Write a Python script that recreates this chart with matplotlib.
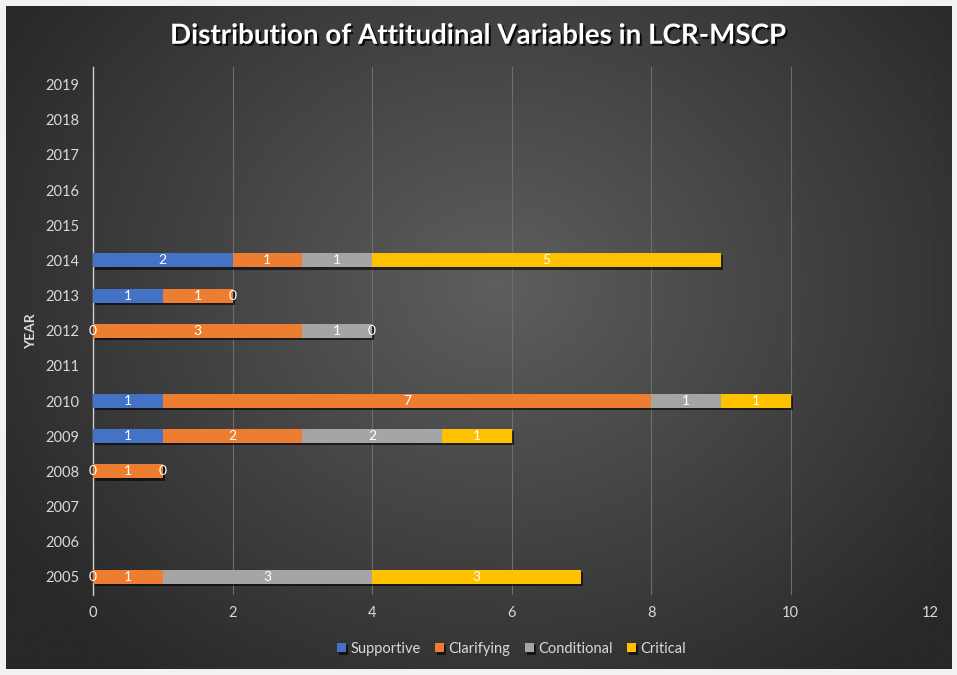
import numpy as np
import matplotlib
matplotlib.use("Agg")
import matplotlib.pyplot as plt
import matplotlib.patheffects as pe

plt.rcParams['font.family'] = ['Lato', 'DejaVu Sans']

years = [2005, 2006, 2007, 2008, 2009, 2010, 2011, 2012, 2013, 2014, 2015, 2016, 2017, 2018, 2019]
series_names = ["Supportive", "Clarifying", "Conditional", "Critical"]
nan = np.nan
supportive = [0, nan, nan, 0, 1, 1, nan, 0, 1, 2, nan, nan, nan, nan, nan]
clarifying = [1, nan, nan, 1, 2, 7, nan, 3, 1, 1, nan, nan, nan, nan, nan]
conditional = [3, nan, nan, 0, 2, 1, nan, 1, 0, 1, nan, nan, nan, nan, nan]
critical = [3, nan, nan, nan, 1, 1, nan, 0, nan, 5, nan, nan, nan, nan, nan]
colors = ["#4472C4", "#ED7D31", "#A5A5A5", "#FFC000"]
xticks = [0, 2, 4, 6, 8, 10, 12]

fig = plt.figure(figsize=(9.57, 6.75), dpi=100)
fig.patch.set_facecolor("#f2f2f2")

# background radial gradient
bg = fig.add_axes([0.006, 0.009, 0.988, 0.982])
bg.set_axis_off()
h, w = 400, 560
yy, xx = np.mgrid[0:h, 0:w]
cx, cy = w * 0.52, h * 0.42
r = np.sqrt(((xx - cx) / (w * 0.62)) ** 2 + ((yy - cy) / (h * 0.75)) ** 2)
r = np.clip(r, 0, 1)
c0 = np.array([0x5e, 0x5e, 0x5e]) / 255
c1 = np.array([0x28, 0x28, 0x28]) / 255
img = c0[None, None, :] * (1 - r[..., None]) + c1[None, None, :] * r[..., None]
bg.imshow(img, aspect='auto', extent=[0, 1, 0, 1], interpolation='bilinear')
bg.set_xlim(0, 1); bg.set_ylim(0, 1)

ax = fig.add_axes([0.0972, 0.1192, 0.8746, 0.7815])
ax.patch.set_alpha(0)
ypos = np.arange(len(years))
data = [supportive, clarifying, conditional, critical]
left = np.zeros(len(years))
shadow = [pe.SimplePatchShadow(offset=(1.5, -1.5), shadow_rgbFace='black', alpha=0.6), pe.Normal()]
for name, vals, col in zip(series_names, data, colors):
    v = np.array(vals, dtype=float)
    vv = np.nan_to_num(v)
    bars = ax.barh(ypos, vv, left=left, height=0.4, color=col, label=name, zorder=3)
    for b in bars:
        b.set_path_effects(shadow)
    for i, val in enumerate(v):
        if not np.isnan(val):
            ax.text(left[i] + vv[i] / 2, ypos[i], f"{int(val)}", ha='center', va='center',
                    color='white', fontsize=10, zorder=5)
    left = left + vv

ax.set_xlim(0, 12)
ax.set_ylim(-0.5, len(years) - 0.5)
ax.set_xticks(xticks)
ax.set_yticks(ypos)
ax.set_yticklabels([str(y) for y in years])
ax.tick_params(colors="#d9d9d9", labelsize=10.5, length=0)
ax.tick_params(axis='x', pad=8)
ax.tick_params(axis='y', pad=10)
ax.xaxis.grid(True, color="#6e6e6e", linewidth=0.8, zorder=0)
ax.set_axisbelow(True)
for s in ['top', 'right', 'bottom']:
    ax.spines[s].set_visible(False)
ax.spines['left'].set_color("#cfcfcf")
ax.spines['left'].set_linewidth(1.0)
ax.set_ylabel("YEAR", color="#d9d9d9", fontsize=10, fontweight='bold', labelpad=6)

leg = ax.legend(loc='upper center', bbox_to_anchor=(0.5, -0.065), ncol=4, frameon=False,
                fontsize=10.5, handlelength=0.6, handleheight=0.6, handletextpad=0.3,
                columnspacing=1.0, labelcolor="#d9d9d9")

fig.text(0.5, 0.947, "Distribution of Attitudinal Variables in LCR-MSCP", ha='center', va='center',
         color='white', fontsize=20, fontweight='bold',
         path_effects=[pe.withSimplePatchShadow(offset=(1.5, -1.5), shadow_rgbFace='black', alpha=0.8)])

fig.savefig("out.png", dpi=100, facecolor=fig.get_facecolor())
